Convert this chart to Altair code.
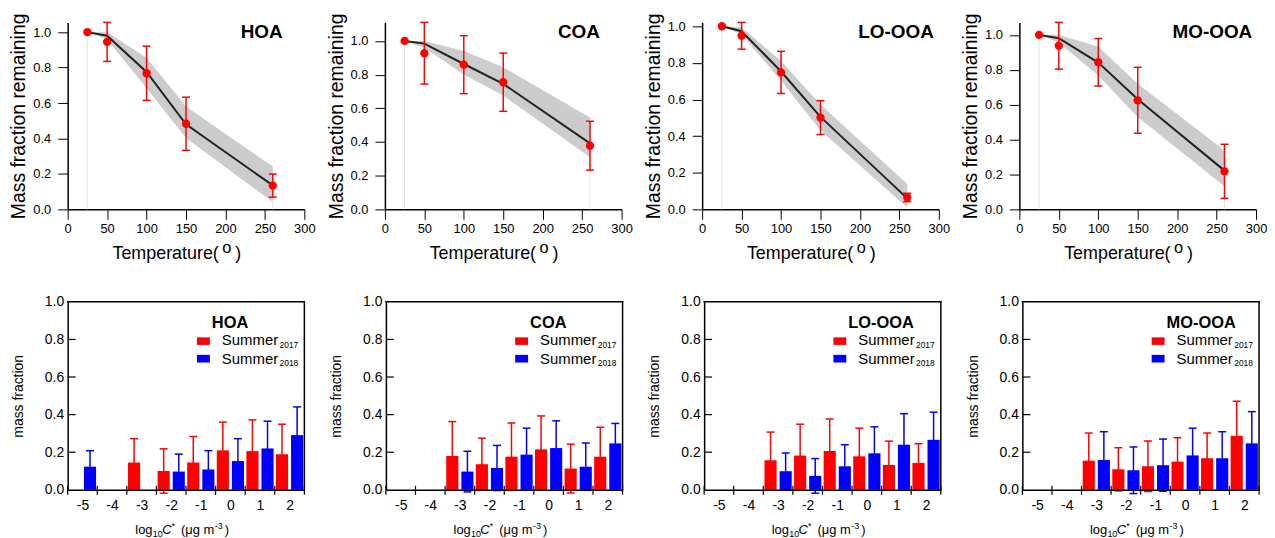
import altair as alt
import pandas as pd

FONT = "Liberation Sans"

# ---------------- data: thermogram (top row) ----------------
temps = [25, 50, 100, 150, 260]

HOA_obs = [1.0, 0.945, 0.768, 0.483, 0.134]
HOA_err = [0.0, 0.110, 0.153, 0.150, 0.065]
HOA_fit = [1.0, 0.980, 0.775, 0.480, 0.135]
HOA_hi = [1.0, 1.000, 0.855, 0.580, 0.242]
HOA_lo = [1.0, 0.960, 0.684, 0.403, 0.041]

COA_obs = [1.0, 0.927, 0.859, 0.755, 0.378]
COA_err = [0.0, 0.183, 0.172, 0.173, 0.145]
COA_fit = [1.0, 0.984, 0.863, 0.745, 0.392]
COA_hi = [1.0, 1.000, 0.940, 0.843, 0.545]
COA_lo = [1.0, 0.960, 0.800, 0.676, 0.310]

LO_obs = [1.0, 0.948, 0.748, 0.501, 0.065]
LO_err = [0.0, 0.073, 0.115, 0.092, 0.023]
LO_fit = [1.0, 0.973, 0.753, 0.505, 0.060]
LO_hi = [1.0, 0.995, 0.810, 0.573, 0.139]
LO_lo = [1.0, 0.955, 0.703, 0.432, 0.009]

MO_obs = [1.0, 0.9375, 0.843, 0.625, 0.218]
MO_err = [0.0, 0.134, 0.136, 0.189, 0.155]
MO_fit = [1.0, 0.981, 0.841, 0.631, 0.222]
MO_hi = [1.0, 1.000, 0.932, 0.720, 0.337]
MO_lo = [1.0, 0.956, 0.767, 0.530, 0.133]

# ---------------- data: volatility distribution (bottom row) ----------------
bins = [-5, -4, -3, -2, -1, 0, 1, 2]

HOA_2017 = [None, None, 0.145, 0.100, 0.145, 0.210, 0.206, 0.189]
HOA_2017_err = [None, None, 0.127, 0.118, 0.139, 0.150, 0.166, 0.160]
HOA_2018 = [0.123, None, None, 0.097, 0.108, 0.153, 0.220, 0.291]
HOA_2018_err = [0.085, None, None, 0.093, 0.100, 0.119, 0.145, 0.150]

COA_2017 = [None, None, 0.180, 0.136, 0.176, 0.215, 0.113, 0.176]
COA_2017_err = [None, None, 0.183, 0.139, 0.180, 0.178, 0.130, 0.157]
COA_2018 = [None, None, 0.097, 0.116, 0.187, 0.222, 0.123, 0.247]
COA_2018_err = [None, None, 0.108, 0.120, 0.141, 0.145, 0.126, 0.106]

LO_2017 = [None, None, 0.157, 0.182, 0.206, 0.178, 0.132, 0.143]
LO_2017_err = [None, None, 0.150, 0.167, 0.171, 0.150, 0.127, 0.102]
LO_2018 = [None, None, 0.099, 0.074, 0.125, 0.194, 0.240, 0.266]
LO_2018_err = [None, None, 0.097, 0.092, 0.115, 0.141, 0.165, 0.147]

MO_2017 = [None, None, 0.155, 0.109, 0.125, 0.150, 0.168, 0.287]
MO_2017_err = [None, None, 0.147, 0.115, 0.134, 0.127, 0.134, 0.184]
MO_2018 = [None, None, 0.159, 0.104, 0.131, 0.183, 0.168, 0.247]
MO_2018_err = [None, None, 0.150, 0.124, 0.139, 0.145, 0.141, 0.169]

names = ["HOA", "COA", "LO-OOA", "MO-OOA"]
x_ticks_top = [0, 50, 100, 150, 200, 250, 300]
y_ticks = [0.0, 0.2, 0.4, 0.6, 0.8, 1.0]
inner_y_ticks = [0.2, 0.4, 0.6, 0.8]
seasons = ["2017", "2018"]

W = 238
H_TOP = 188
H_BOT = 189
RED = "#ff0000"
BLUE = "#0000ff"


def seg(text, x, y, size, style="normal", weight="normal", align="left"):
    return alt.Chart(pd.DataFrame({"t": [text]})).mark_text(
        font=FONT, fontSize=size, fontStyle=style, fontWeight=weight,
        align=align, baseline="alphabetic", color="black"
    ).encode(x=alt.value(x), y=alt.value(y), text="t:N")


def box(x0, x1, y0, y1, color="black"):
    return alt.Chart(pd.DataFrame({"a": [0]})).mark_rect(color=color, opacity=1).encode(
        x=alt.value(x0), x2=alt.value(x1), y=alt.value(y0), y2=alt.value(y1))


def top_panel(name, obs, err, fit, hi, lo, label_left):
    df = pd.DataFrame({"T": temps, "obs": obs, "err": err, "fit": fit, "hi": hi, "lo": lo})
    ymax = max(o + e for o, e in zip(obs, err))
    xs = alt.Scale(domain=[0, 300], nice=False, zero=False)
    ys = alt.Scale(domain=[0, ymax], nice=False, zero=False)
    xax = alt.Axis(values=x_ticks_top, title=None, grid=False, tickSize=10, tickWidth=1,
                   domainWidth=1.5, domainColor="black", tickColor="black",
                   labelFontSize=13, labelColor="black", labelFont=FONT, labelPadding=3,
                   labelFlush=False, labelOverlap=False)
    yax = alt.Axis(values=y_ticks, format=".1f", title="Mass fraction remaining", grid=False,
                   tickSize=10, tickWidth=1, domainWidth=1.5, domainColor="black",
                   tickColor="black", labelFontSize=13, labelColor="black", labelFont=FONT,
                   labelPadding=7, labelFlush=False, labelOverlap=False,
                   titleFont=FONT, titleFontSize=19.5, titleFontWeight="normal",
                   titleColor="black", titlePadding=4)
    X = alt.X("T:Q", scale=xs, axis=xax)

    def Y(f):
        return alt.Y(f, type="quantitative", scale=ys, axis=yax)

    base = alt.Chart(df)
    edges = base.transform_filter("datum.T == 25 || datum.T == 260").transform_calculate(
        z="0").mark_rule(color="#e2e2e2", strokeWidth=1).encode(x=X, y=Y("z"), y2="lo:Q")
    band = base.mark_area(color="#cccccc", opacity=1).encode(x=X, y=Y("lo"), y2="hi:Q")
    line = base.mark_line(color="#222222", strokeWidth=2).encode(x=X, y=Y("fit"))
    eb = base.transform_filter("datum.err > 0").transform_calculate(
        eh="datum.obs + datum.err", el="datum.obs - datum.err")
    erule = eb.mark_rule(color=RED, strokeWidth=1.5).encode(x=X, y=Y("el"), y2="eh:Q")
    cap_hi = eb.mark_tick(color=RED, thickness=1.5, size=8, orient="horizontal", opacity=1).encode(x=X, y=Y("eh"))
    cap_lo = eb.mark_tick(color=RED, thickness=1.5, size=8, orient="horizontal", opacity=1).encode(x=X, y=Y("el"))
    pts = base.mark_circle(color=RED, size=70, opacity=1).encode(x=X, y=Y("obs"))
    label = seg(name, label_left, 15.5, 19, weight="bold")
    tb = H_TOP + 50
    t1 = seg("Temperature(", 152, tb, 18, align="right")
    t2 = seg("o", 155.5, tb - 6.5, 16.5)
    t3 = seg(")", 168.5, tb, 18)
    return alt.layer(edges, band, line, erule, cap_hi, cap_lo, pts, label, t1, t2, t3).properties(
        width=W, height=H_TOP)


def bottom_panel(name, red, red_err, blue, blue_err):
    rows = []
    for s, vals, errs in (("2017", red, red_err), ("2018", blue, blue_err)):
        for b, v, e in zip(bins, vals, errs):
            if v is not None:
                rows.append({"bin": b, "season": s, "v": v, "e": e})
    df = pd.DataFrame(rows)
    x_lo, x_hi = bins[0] - 0.5, bins[-1] + 0.5
    xs = alt.Scale(domain=[x_lo, x_hi], nice=False, zero=False)
    ys = alt.Scale(domain=[0, 1], nice=False, zero=False)
    xax = alt.Axis(values=bins, labelExpr="'' + datum.value", ticks=False, tickSize=0,
                   domain=True, domainColor="black", domainWidth=1.5, zindex=1,
                   labelPadding=9, labelFontSize=14, labelColor="black",
                   labelFont=FONT, title=None, grid=False, labelFlush=False, labelOverlap=False)
    yax = alt.Axis(values=y_ticks, format=".1f", ticks=False, tickSize=0,
                   domain=True, domainColor="black", domainWidth=1.5, zindex=1,
                   labelPadding=4, labelFontSize=14, labelColor="black", labelFont=FONT,
                   grid=False, labelFlush=False, labelOverlap=False,
                   title="mass fraction", titleFont=FONT, titleFontSize=14,
                   titleFontWeight="normal", titleColor="black", titlePadding=19)

    def X(f):
        return alt.X(f, type="quantitative", scale=xs, axis=xax)

    def Y(f):
        return alt.Y(f, type="quantitative", scale=ys, axis=yax)

    color = alt.Color("season:N", scale=alt.Scale(domain=seasons, range=[RED, BLUE]), legend=None)
    base = alt.Chart(df).transform_calculate(
        x0="datum.bin + (datum.season == '2017' ? -0.46 : 0.05)",
        x1="datum.bin + (datum.season == '2017' ? -0.05 : 0.46)",
        xc="datum.bin + (datum.season == '2017' ? -0.255 : 0.255)",
        eh="datum.v + datum.e",
        el="datum.v - datum.e",
        z="0",
    )
    erule = base.mark_rule(strokeWidth=1.5).encode(x=X("xc"), y=Y("el"), y2="eh:Q", color=color)
    cap_hi = base.mark_tick(thickness=1.5, size=8, orient="horizontal", opacity=1).encode(
        x=X("xc"), y=Y("eh"), color=color)
    cap_lo = base.mark_tick(thickness=1.5, size=8, orient="horizontal", opacity=1).encode(
        x=X("xc"), y=Y("el"), color=color)
    bars = base.mark_rect(opacity=1).encode(
        x=X("x0"), x2="x1:Q", y=Y("v"), y2="z:Q", color=color)

    px_x = (x_hi - x_lo) / W
    px_y = 1.0 / H_BOT
    yt = alt.Chart(pd.DataFrame({"yt": inner_y_ticks})).transform_calculate(
        tx=f"{x_lo + 4 * px_x}").mark_tick(
        color="black", thickness=1.2, size=8, orient="horizontal", opacity=1).encode(
        x=X("tx"), y=Y("yt"))
    xt = alt.Chart(pd.DataFrame({"xb": [b - 0.5 for b in bins] + [x_hi]})).transform_calculate(
        ty=f"{-0.5 * px_y}").mark_tick(
        color="black", thickness=1.2, size=9, orient="vertical", opacity=1).encode(
        x=X("xb"), y=Y("ty"))
    fw = 0.75
    f_right = box(W - fw, W + fw, -fw, H_BOT + fw)
    f_top = box(-fw, W + fw, -fw, fw)

    title = seg(name, 145, 26.7, 16.5, weight="bold")
    sw_red = box(130, 143, 35.7, 43.3, RED)
    sw_blue = box(130, 143, 53.3, 61, BLUE)
    l1 = seg("Summer", 155, 43.7, 15)
    l1s = seg("2017", 213, 46.2, 8.5)
    l2 = seg("Summer", 155, 62, 15)
    l2s = seg("2018", 213, 64.5, 8.5)

    bb = H_BOT + 44
    x1 = seg("log", 68, bb, 13)
    x2 = seg("10", 85.5, bb + 3, 9)
    x3 = seg("C", 95, bb, 13, style="italic")
    x4 = seg("*", 104.5, bb - 5, 9)
    x5 = seg("(\u03bcg m", 114, bb, 13)
    x6 = seg("-3", 148, bb - 5, 9)
    x7 = seg(")", 158, bb, 13)

    return alt.layer(erule, cap_hi, cap_lo, bars,
                     title, sw_red, sw_blue, l1, l1s, l2, l2s,
                     x1, x2, x3, x4, x5, x6, x7,
                     yt, xt, f_right, f_top).properties(width=W, height=H_BOT)


tops = [
    top_panel("HOA", HOA_obs, HOA_err, HOA_fit, HOA_hi, HOA_lo, 174),
    top_panel("COA", COA_obs, COA_err, COA_fit, COA_hi, COA_lo, 174),
    top_panel("LO-OOA", LO_obs, LO_err, LO_fit, LO_hi, LO_lo, 157),
    top_panel("MO-OOA", MO_obs, MO_err, MO_fit, MO_hi, MO_lo, 154),
]
bots = [
    bottom_panel("HOA", HOA_2017, HOA_2017_err, HOA_2018, HOA_2018_err),
    bottom_panel("COA", COA_2017, COA_2017_err, COA_2018, COA_2018_err),
    bottom_panel("LO-OOA", LO_2017, LO_2017_err, LO_2018, LO_2018_err),
    bottom_panel("MO-OOA", MO_2017, MO_2017_err, MO_2018, MO_2018_err),
]

chart = alt.vconcat(
    alt.hconcat(*tops, spacing=10),
    alt.hconcat(*bots, spacing=24),
    spacing=32,
).properties(
    padding={"left": 0, "top": 3, "right": 0, "bottom": 0}
).configure_view(strokeWidth=0, stroke="transparent")

chart.save("out.html", embed_options={"renderer": "svg", "actions": False})
